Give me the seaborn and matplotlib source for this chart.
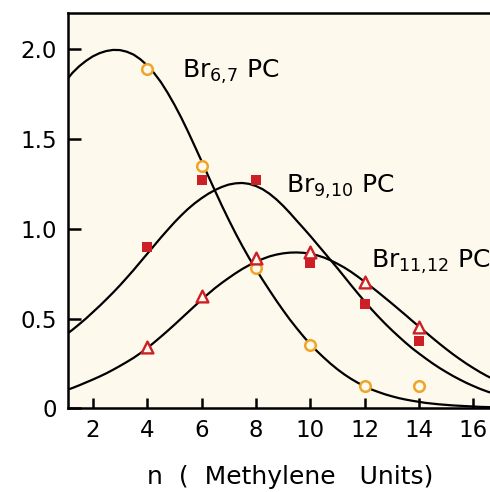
import pandas as pd
import seaborn as sns
import matplotlib.pyplot as plt

# fitted curves at quarter-unit steps
curve_x = [1.1, 1.25, 1.5, 1.75, 2.0, 2.25, 2.5, 2.75, 3.0, 3.25, 3.5, 3.75, 4.0, 4.25,
           4.5, 4.75, 5.0, 5.25, 5.5, 5.75, 6.0, 6.25, 6.5, 6.75, 7.0, 7.25, 7.5, 7.75,
           8.0, 8.25, 8.5, 8.75, 9.0, 9.25, 9.5, 9.75, 10.0, 10.25, 10.5, 10.75, 11.0,
           11.25, 11.5, 11.75, 12.0, 12.25, 12.5, 12.75, 13.0, 13.25, 13.5, 13.75, 14.0,
           14.25, 14.5, 14.75, 15.0, 15.25, 15.5, 15.75, 16.0, 16.25, 16.5, 16.7]
curve_br67 = [1.840, 1.868, 1.905, 1.935, 1.960, 1.978, 1.990, 1.996, 1.995, 1.986, 1.970,
              1.944, 1.910, 1.868, 1.818, 1.758, 1.692, 1.620, 1.542, 1.460, 1.377, 1.293,
              1.210, 1.128, 1.050, 0.975, 0.904, 0.837, 0.775, 0.715, 0.657, 0.600, 0.546,
              0.494, 0.446, 0.400, 0.357, 0.318, 0.282, 0.248, 0.217, 0.189, 0.164, 0.142,
              0.122, 0.105, 0.091, 0.078, 0.067, 0.057, 0.049, 0.042, 0.036, 0.030, 0.026,
              0.022, 0.019, 0.016, 0.014, 0.012, 0.010, 0.008, 0.007, 0.006]
curve_br910 = [0.420, 0.437, 0.468, 0.500, 0.535, 0.570, 0.607, 0.645, 0.685, 0.727, 0.770,
               0.815, 0.860, 0.905, 0.950, 0.993, 1.035, 1.074, 1.110, 1.142, 1.170, 1.195,
               1.216, 1.233, 1.246, 1.253, 1.255, 1.250, 1.238, 1.220, 1.195, 1.164, 1.128,
               1.088, 1.045, 1.003, 0.960, 0.915, 0.870, 0.825, 0.780, 0.733, 0.686, 0.640,
               0.595, 0.552, 0.511, 0.472, 0.435, 0.400, 0.366, 0.334, 0.305, 0.277, 0.250,
               0.225, 0.202, 0.180, 0.160, 0.141, 0.124, 0.108, 0.094, 0.084]
curve_br1112 = [0.105, 0.113, 0.128, 0.144, 0.160, 0.177, 0.195, 0.215, 0.236, 0.258, 0.281,
                0.307, 0.335, 0.366, 0.398, 0.431, 0.465, 0.500, 0.535, 0.570, 0.605, 0.638,
                0.670, 0.699, 0.726, 0.752, 0.776, 0.797, 0.816, 0.832, 0.846, 0.856, 0.863,
                0.867, 0.868, 0.866, 0.861, 0.852, 0.840, 0.824, 0.805, 0.784, 0.760, 0.733,
                0.705, 0.676, 0.646, 0.615, 0.584, 0.552, 0.520, 0.487, 0.455, 0.423, 0.391,
                0.360, 0.330, 0.301, 0.274, 0.248, 0.224, 0.201, 0.180, 0.165]

# measured points
n = [4, 6, 8, 10, 12, 14]
pts_br67 = [1.89, 1.35, 0.78, 0.35, 0.125, 0.125]
pts_br910 = [0.90, 1.27, 1.27, 0.81, 0.58, 0.377]
pts_br1112 = [0.343, 0.625, 0.835, 0.87, 0.705, 0.455]

xticks = [2, 4, 6, 8, 10, 12, 14, 16]
yticks = [0, 0.5, 1.0, 1.5, 2.0]
ytick_labels = ['0', '0.5', '1.0', '1.5', '2.0']

bg = '#fdfaed'
orange = '#f0a428'
red = '#cc1f26'

sns.set_style('ticks')
plt.rcParams['font.family'] = ['DejaVu Sans']
plt.rcParams['mathtext.default'] = 'regular'
for key in ('text.color', 'axes.labelcolor', 'xtick.color', 'ytick.color', 'axes.edgecolor'):
    plt.rcParams[key] = 'black'

fig = plt.figure(figsize=(4.9, 4.92), dpi=100)
ax = fig.add_axes([0.1394, 0.1701, 0.8606, 0.8029])
ax.set_facecolor(bg)

for ys in (curve_br67, curve_br910, curve_br1112):
    sns.lineplot(x=curve_x, y=ys, ax=ax, color='black', linewidth=1.6,
                 estimator=None, sort=False, zorder=2, solid_joinstyle='round')

sns.scatterplot(x=n, y=pts_br910, ax=ax, marker='s', s=52, color=red,
                edgecolor='none', zorder=3)
sns.scatterplot(x=n, y=pts_br67, ax=ax, marker='o', s=58, facecolor=bg,
                edgecolor=orange, linewidth=1.8, zorder=4)
sns.scatterplot(x=n, y=pts_br1112, ax=ax, marker='^', s=72, facecolor=bg,
                edgecolor=red, linewidth=1.7, zorder=5)

ax.text(5.27, 1.84, 'Br$_{6{,}7}$ PC', fontsize=18, ha='left', va='baseline')
ax.text(9.11, 1.198, 'Br$_{9{,}10}$ PC', fontsize=18, ha='left', va='baseline')
ax.text(12.22, 0.78, 'Br$_{11{,}12}$ PC', fontsize=18, ha='left', va='baseline')

ax.set_xlim(1.1, 16.61)
ax.set_ylim(0, 2.2)
ax.set_xticks(xticks)
ax.set_yticks(yticks)
ax.set_yticklabels(ytick_labels)
ax.tick_params(axis='both', direction='in', width=1.8, labelsize=16.5)
ax.tick_params(axis='y', length=9.5, pad=8)
ax.tick_params(axis='x', length=7, pad=8)

for side in ('left', 'bottom', 'top'):
    ax.spines[side].set_linewidth(1.8)
ax.spines['right'].set_visible(False)

ax.set_xlabel('n  (  Methylene   Units)', fontsize=18)
ax.xaxis.set_label_coords(0.526, -0.143)
ax.set_ylabel('')

fig.savefig('out.png', dpi=100)
